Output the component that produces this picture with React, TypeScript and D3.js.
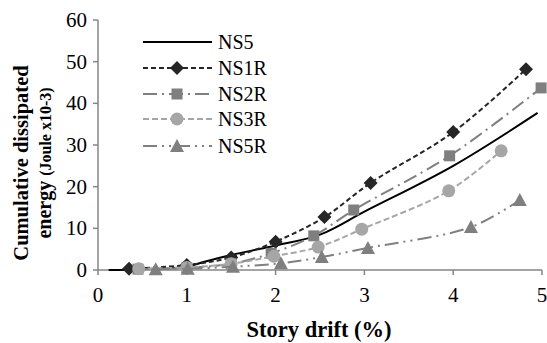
import React from "react";
import * as d3 from "d3";

const xTicks = [0, 1, 2, 3, 4, 5];
const yTicks = [0, 10, 20, 30, 40, 50, 60];

const ns5: [number, number][] = [[0.12, 0], [0.5, 0.2], [1.0, 0.8], [1.2, 2.0], [1.5, 3.6], [2.0, 5.9], [2.5, 8.5], [3.0, 14], [4.0, 25], [4.95, 37.7]];
const ns1r: [number, number][] = [[0.35, 0.3], [1.0, 1.2], [1.5, 3.0], [2.0, 6.8], [2.55, 12.7], [3.07, 20.9], [4.0, 33.1], [4.82, 48.2]];
const ns2r: [number, number][] = [[0.45, 0.2], [1.0, 0.5], [1.5, 1.5], [1.95, 4.0], [2.43, 8.2], [2.88, 14.4], [3.96, 27.4], [4.99, 43.7]];
const ns3r: [number, number][] = [[0.46, 0.3], [1.0, 0.6], [1.5, 1.5], [1.98, 3.3], [2.48, 5.5], [2.97, 9.8], [3.95, 19.0], [4.54, 28.6]];
const ns5r: [number, number][] = [[0.65, 0.2], [1.01, 0.3], [1.52, 0.8], [2.06, 1.6], [2.52, 3.1], [3.04, 5.3], [4.2, 10.3], [4.75, 16.8]];

type S = { name: string; data: [number, number][]; color: string; dash: string; width: number; marker: string | null };
const series: S[] = [
  { name: "NS5", data: ns5, color: "#000000", dash: "", width: 2, marker: null },
  { name: "NS1R", data: ns1r, color: "#262626", dash: "5,3", width: 2, marker: "diamond" },
  { name: "NS2R", data: ns2r, color: "#7f7f7f", dash: "14,5,2,5", width: 2, marker: "square" },
  { name: "NS3R", data: ns3r, color: "#a6a6a6", dash: "6,3", width: 2, marker: "circle" },
  { name: "NS5R", data: ns5r, color: "#808080", dash: "14,5,2,5,2,5", width: 2, marker: "triangle" },
];

const font = "Liberation Serif";

function Marker({ type, x, y, color }: { type: string | null; x: number; y: number; color: string }) {
  if (!type) return null;
  if (type === "diamond") return <path d={`M${x},${y - 7}L${x + 7},${y}L${x},${y + 7}L${x - 7},${y}Z`} fill={color} />;
  if (type === "square") return <rect x={x - 5.5} y={y - 5.5} width={11} height={11} fill={color} />;
  if (type === "circle") return <circle cx={x} cy={y} r={6.5} fill={color} />;
  if (type === "triangle") return <path d={`M${x},${y - 7}L${x + 7},${y + 6}L${x - 7},${y + 6}Z`} fill={color} />;
  return null;
}

export default function App() {
  const W = 547, H = 343;
  const x = d3.scaleLinear().domain([0, 5]).range([98, 542]);
  const y = d3.scaleLinear().domain([0, 60]).range([270, 20]);
  const line = d3.line<[number, number]>().x(d => x(d[0])).y(d => y(d[1])).curve(d3.curveCatmullRom.alpha(0.5));
  const axisColor = "#868686";
  const legendY = [42, 68, 94, 119, 146];
  const markerColor = (s: S) => (s.name === "NS5R" ? "#7f7f7f" : s.color);
  const ts = { fontFamily: font };
  return (
    <svg width={W} height={H} style={{ position: "absolute", left: 0, top: 0, fontFamily: font }}>
      <rect width={W} height={H} fill="#fff" />
      <line x1={98} x2={98} y1={y(60)} y2={y(0)} stroke={axisColor} strokeWidth={1.5} />
      {yTicks.map(t => (
        <g key={t}>
          <line x1={93} x2={98} y1={y(t)} y2={y(t)} stroke={axisColor} strokeWidth={1.5} />
          <text x={87} y={y(t) + 7} textAnchor="end" style={ts} fontSize={21}>{t}</text>
        </g>
      ))}
      <line x1={98} x2={542} y1={y(0)} y2={y(0)} stroke={axisColor} strokeWidth={1.5} />
      {xTicks.map(t => (
        <g key={t}>
          <line x1={x(t)} x2={x(t)} y1={270} y2={275} stroke={axisColor} strokeWidth={1.5} />
          <text x={x(t)} y={302} textAnchor="middle" style={ts} fontSize={21}>{t}</text>
        </g>
      ))}
      {series.map(s => (
        <g key={s.name}>
          <path d={line(s.data) || ""} fill="none" stroke={s.color} strokeWidth={s.width} strokeDasharray={s.dash} />
          {s.data.map((d, i) => <Marker key={i} type={s.marker} x={x(d[0])} y={y(d[1])} color={markerColor(s)} />)}
        </g>
      ))}
      {series.map((s, i) => (
        <g key={s.name}>
          <line x1={143} x2={212} y1={legendY[i]} y2={legendY[i]} stroke={s.color} strokeWidth={s.width} strokeDasharray={s.dash} />
          <Marker type={s.marker} x={177} y={legendY[i]} color={markerColor(s)} />
          <text x={218} y={legendY[i] + 7} style={ts} fontSize={20}>{s.name}</text>
        </g>
      ))}
      <text x={319} y={337} textAnchor="middle" style={ts} fontSize={22.5} fontWeight="bold">Story drift (%)</text>
      <g transform="translate(28,163) rotate(-90)">
        <text x={0} y={0} textAnchor="middle" style={ts} fontSize={20.5} fontWeight="bold">Cumulative dissipated</text>
        <text x={0} y={23} textAnchor="middle" style={ts} fontWeight="bold">
          <tspan fontSize={20}>energy </tspan>
          <tspan fontSize={16}>(Joule x10-3)</tspan>
        </text>
      </g>
    </svg>
  );
}
